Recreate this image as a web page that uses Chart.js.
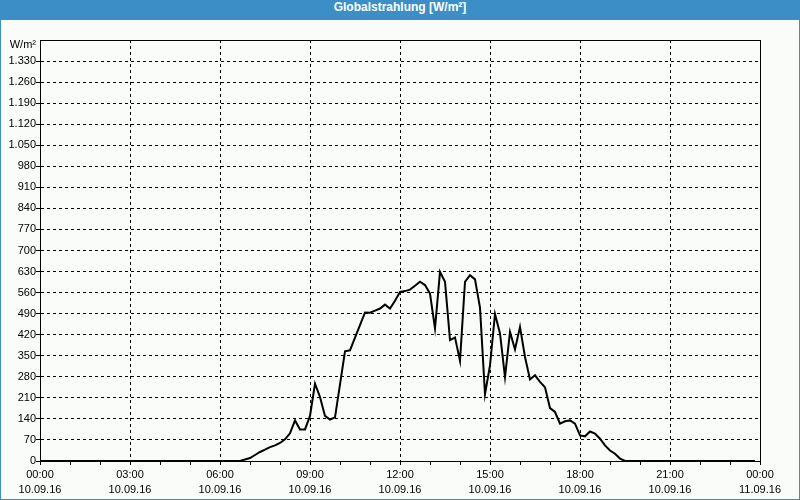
<!DOCTYPE html>
<html><head><meta charset="utf-8">
<script src="https://cdn.jsdelivr.net/npm/chart.js@4"></script>
<style>
html,body{margin:0;padding:0;background:#fff;}
#wrap{position:relative;width:800px;height:500px;background:#3c8fc6;overflow:hidden;}
#title{position:absolute;left:0;top:0;width:800px;height:20px;line-height:20px;text-align:center;color:#fff;font:bold 12px "Liberation Sans",Arial,sans-serif;}
#c{position:absolute;left:1px;top:20px;background:#f9fcf9;}
</style></head><body>
<div id="wrap"><div id="title">Globalstrahlung [W/m²]</div><canvas id="c" width="798" height="479"></canvas></div>
<script>
const unitLabel = 'W/m²';
const times = ['00:00','06:30','06:40','06:50','07:00','07:10','07:20','07:30','07:40','07:50','08:00','08:10','08:20','08:30','08:40','08:50',
  '09:00','09:10','09:20','09:30','09:40','09:50','10:00','10:10','10:20','10:30','10:40','10:50','11:00','11:10','11:20','11:30','11:40','11:50',
  '12:00','12:10','12:20','12:30','12:40','12:50','13:00','13:10','13:20','13:30','13:40','13:50','14:00','14:10','14:20','14:30','14:40','14:50',
  '15:00','15:10','15:20','15:30','15:40','15:50','16:00','16:10','16:20','16:30','16:40','16:50','17:00','17:10','17:20','17:30','17:40','17:50',
  '18:00','18:10','18:20','18:30','18:40','18:50','19:00','19:10','19:20','19:30','23:50'];
const values = [0,0,0,5,10,20,30,38,46,52,60,72,92,135,105,105,
  150,257,213,150,138,145,255,365,368,410,452,494,493,500,507,520,507,533,
  562,565,570,583,596,585,557,441,629,596,402,411,333,596,618,604,510,222,
  318,489,424,279,429,371,446,346,271,285,263,245,176,163,124,132,135,124,
  85,82,98,91,74,52,35,24,8,0,0];
const xTickTimes = ['00:00','03:00','06:00','09:00','12:00','15:00','18:00','21:00','00:00'];
const xTickDates = ['10.09.16','10.09.16','10.09.16','10.09.16','10.09.16','10.09.16','10.09.16','10.09.16','11.09.16'];
const yMax = 1400, yStep = 70;

const toMin = t => { const p = t.split(':'); return (+p[0]) * 60 + (+p[1]); };
const points = times.map((t, i) => ({x: toMin(t) + (i === times.length - 1 && false ? 0 : 0), y: values[i]}));
const fmt = v => v >= 1000 ? Math.floor(v / 1000) + '.' + String(v % 1000).padStart(3, '0') : String(v);
const FONT = {family: '"Liberation Sans", Arial, sans-serif', size: 11};
const clear = 'rgba(0,0,0,0)';

const framePlugin = {
  id: 'frame',
  beforeDatasetsDraw(chart) {
    const {ctx, chartArea: a} = chart;
    ctx.save();
    ctx.strokeStyle = '#000'; ctx.lineWidth = 1;
    ctx.strokeRect(Math.round(a.left) + 0.5, Math.round(a.top) + 0.5, Math.round(a.right - a.left), Math.round(a.bottom - a.top));
    ctx.restore();
  },
  afterDraw(chart) {
    const {ctx, chartArea: a} = chart;
    ctx.save();
    ctx.fillStyle = '#000';
    ctx.font = '11px "Liberation Sans", Arial, sans-serif';
    ctx.textAlign = 'right'; ctx.textBaseline = 'middle';
    ctx.fillText(unitLabel, a.left - 4, a.top + 5);
    ctx.restore();
  }
};

new Chart(document.getElementById('c'), {
  type: 'line',
  data: {datasets: [{data: points, borderColor: '#000', borderWidth: 2, pointRadius: 0, tension: 0, fill: false}]},
  options: {
    responsive: false, animation: false, events: [],
    layout: {padding: {left: 0, right: 39, top: 20, bottom: 0}},
    plugins: {legend: {display: false}, tooltip: {enabled: false}, title: {display: false}},
    scales: {
      x: {
        type: 'linear', min: 0, max: 1440,
        afterFit: s => { s.height = 38; },
        ticks: {
          stepSize: 60, autoSkip: false, maxRotation: 0, minRotation: 0, padding: 2, color: '#000',
          font: {...FONT, lineHeight: '15px'},
          callback: v => (v % 180 === 0) ? [xTickTimes[v / 180], xTickDates[v / 180]] : ''
        },
        grid: {
          color: c => (c.tick && c.tick.value % 180 === 0 && c.tick.value !== 0 && c.tick.value !== 1440) ? '#000' : clear,
          tickColor: '#000', tickLength: 4, lineWidth: 1
        },
        border: {display: true, color: '#000', width: 1, dash: [3, 3]}
      },
      y: {
        min: 0, max: yMax,
        afterFit: s => { s.width = 39; },
        ticks: {stepSize: yStep, padding: 0, color: '#000', font: FONT, autoSkip: false,
          callback: v => v === yMax ? '' : fmt(v)},
        grid: {
          color: c => (c.tick && (c.tick.value === 0 || c.tick.value === yMax)) ? clear : '#000',
          tickColor: c => (c.tick && c.tick.value === yMax) ? clear : '#000',
          tickLength: 4, lineWidth: 1
        },
        border: {display: true, color: '#000', width: 1, dash: [3, 3]}
      }
    }
  },
  plugins: [framePlugin]
});
</script>
</body></html>
